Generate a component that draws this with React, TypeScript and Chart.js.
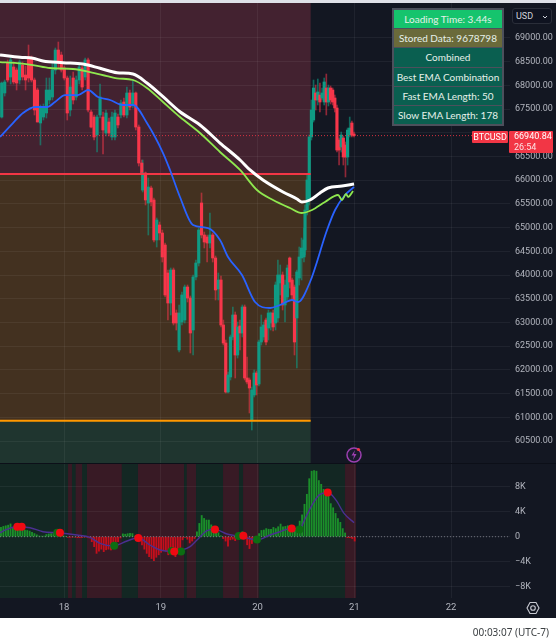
import React, { useEffect, useRef } from "react";
import { Chart, registerables } from "chart.js";

Chart.register(...registerables);

// ---------- data ----------
const priceTicks = [69000, 68500, 68000, 67500, 67000, 66500, 66000, 65500, 65000, 64500, 64000, 63500, 63000, 62500, 62000, 61500, 61000, 60500];
const priceLabelUnderTag = 67000;
const oscTicks = [8000, 4000, 0, -4000, -8000];
const dayTicks = [18, 19, 20, 21, 22];

const opens = [67333,67840,68472,68177,68388,68325,68114,68430,68219,68599,68578,68114,67903,67207,67333,67418,67692,67755,68325,68746,68641,68367,68156,67481,68156,67755,68114,68367,68177,68536,67439,67333,66954,67376,67333,66996,67228,66912,66912,67333,67376,67650,67376,67840,67587,67840,67122,66363,
  65794,66152,65520,65836,65583,64740,65056,64887,64634,64043,63411,64107,63200,62420,63010,63052,63748,63516,62841,63959,64254,65520,64845,64803,64676,64845,64360,63706,
  63896,62947,62567,61534,61850,62694,63158,62314,62926,62778,63326,61829,61787,60941,61471,61934,61702,62588,62694,63052,62883,62989,63200,62989,63095,63833,64001,63369,63537,64360,63896,63748,63095,63938,64360,64381,
  64529,65372,65583,66912,67270,67840,67692,67797,67734,67650,67945,67650,67945,67903,67734,67523,66848,66701,66891,66743,66490,66954,67207,66975];
const highs = [68072,68114,68536,68620,68493,68367,68536,68493,68409,68852,68620,68156,67945,67587,67608,68156,68156,68493,68789,68915,68704,68409,68198,68198,68282,68198,68430,68409,68578,68578,67481,67376,67376,68030,67439,67481,67312,67439,67481,67397,67692,67734,67966,67903,68114,67861,67165,66427,
  66427,66173,66047,65878,65625,65203,65119,64950,64676,64107,64149,64149,63263,63369,63643,63790,63790,63558,64001,64318,64992,65731,64908,64845,65309,64887,64402,64043,
  63980,63052,62630,61955,62736,63326,63221,63010,63052,63369,63369,62272,61829,61639,61998,61977,62630,63158,63010,63095,63263,63221,63263,63854,64318,64212,64065,63896,64212,64381,63938,63790,64107,64592,64782,64992,
  65478,66110,66954,67692,68114,68008,68135,68051,67945,68156,68240,68008,67987,67945,67797,67587,66891,67017,66933,66806,67101,67333,67249,67017];
const lows = [67312,67776,68072,68030,68030,67903,68030,68114,67903,68072,68072,67376,67228,66743,67270,67312,67608,67692,68240,68367,68282,68114,67270,67355,67608,67692,68030,67903,68114,67439,67101,66848,66595,67312,66553,66933,66933,66848,66848,67101,67312,67333,67312,67481,67523,67059,66300,65794,
  65752,65478,64845,65457,64697,64592,64740,64275,63537,63052,63158,62947,62841,62377,62947,62989,63432,62356,62314,63896,64191,64782,64571,64275,64571,64275,63474,63474,
  62905,62525,61513,61513,61787,62630,61829,62250,62420,62694,61787,61702,61091,60732,61428,61471,61660,62525,62630,62525,62630,62841,62820,62841,63010,63580,63263,63010,63474,63727,63474,62314,62040,63790,63896,64275,
  64423,65266,65478,66848,67228,67481,67587,67439,67692,67587,67376,67566,67608,67587,67439,66595,66321,66595,66321,66068,66321,66912,66912,66912];
const closes = [68051,68072,68114,68536,68072,68051,68493,68177,68114,68156,68114,67481,67228,67544,67544,67903,67903,68325,68746,68472,68325,68156,67418,67966,67692,68114,68388,67966,68536,67481,67122,66912,67333,67755,67059,67418,66996,67333,67418,67165,67629,67376,67840,67544,67840,67122,66363,66152,
  66152,65583,65857,65541,64740,65161,64887,64381,63580,63411,64107,62989,62989,63200,63580,63748,63516,62778,63959,64254,64950,64845,64697,64676,64845,64360,63685,63896,
  62947,62567,61534,61892,62694,63158,62314,62905,62778,63326,61829,61745,61618,61576,61934,61681,62588,62905,62947,62588,63200,63200,62905,63790,64001,64001,63369,63790,64149,63854,63580,62588,64065,64381,64571,64740,
  65372,66005,66912,67481,67945,67692,67861,67650,67840,68072,67650,67945,67692,67650,67523,66637,66637,66954,66490,66490,67059,67101,66954,66940];

// time of the first candle of each stretch, and the spacing in days within it
const candleStretchFirst = [0, 48, 76, 112];
const candleStretchDay = [17.3556, 18.813, 19.622, 20.4905];
const candleStretchStep = [0.0308, 0.02894, 0.0245, 0.022];

const slowDays = [17.338,17.545,17.679,17.782,17.989,18.196,18.372,18.547,18.713,18.857,19.023,19.198,19.405,19.612,19.819,19.922,20.056,20.263,20.408,20.459,20.542,20.645,20.728,20.873,20.997];
const slowEma = [68641,68593,68572,68515,68479,68451,68361,68268,68240,68051,67762,67445,67165,66785,66427,66216,66005,65752,65604,65541,65583,65731,65836,65878,65920];
const fastDays = [17.338,17.514,17.679,17.855,18.093,18.268,18.444,18.547,18.713,18.857,19.023,19.198,19.405,19.612,19.819,19.994,20.16,20.335,20.459,20.563,20.697,20.832,20.873,20.914,20.935,20.987];
const fastEma = [68493,68472,68430,68367,68346,68282,68198,68150,68114,67945,67650,67333,66996,66595,66216,65794,65583,65414,65309,65372,65541,65689,65583,65710,65647,65773];
const blueDays = [17.338,17.472,17.576,17.7,17.824,17.906,18.01,18.144,18.248,18.351,18.475,18.609,18.713,18.857,19.023,19.095,19.198,19.333,19.488,19.612,19.695,19.839,19.974,20.129,20.232,20.356,20.418,20.542,20.718,20.801,20.904,20.997];
const blueEma = [66912,67207,67418,67544,67544,67650,67797,67797,67903,67755,67692,67587,67587,67207,66574,66216,65646,65056,64992,64740,64381,64001,63432,63305,63369,63474,63432,63854,64950,65372,65689,65857];

const lastPrice = 66940.84;
const upperLevel = 66131;
const lowerLevel = 60928;
const zoneFirstDay = 17.338;
const zoneLastDay = 20.549;

const histFirstDay = 17.348;
const histStep = 0.0247;
const histogram = [1500,1650,1750,1850,2050,1500,1500,1500,1500,1250,1070,1000,900,700,500,300,120,100,100,350,450,500,530,800,960,400,150,80,-100,-60,-40,-80,-160,-160,-130,-60,-80,-200,-800,-1600,-2670,-2300,-2000,-2400,-2100,-2000,-2130,-1600,-1330,-800,-200,450,400,480,530,500,100,-60,-700,-1330,-2000,-2670,-3200,-3500,-3840,-3300,-2900,-2500,-2200,-2300,-2900,-2000,-2600,-3200,-2500,-1800,-500,-100,-400,-1000,-700,-300,800,2130,3400,2930,2670,2670,1900,1100,900,640,150,-300,-700,-1500,-500,-400,-640,200,600,800,-300,-1300,-1900,-1100,-600,-200,500,1000,1070,1300,1200,1200,1490,1300,1600,2030,1600,1650,1760,1450,1250,1070,1300,2500,3500,5200,6800,9300,10500,10600,10500,9000,8400,7600,7470,6770,5300,4640,3730,2900,2300,1300,600,-150,-160,-300,-700];

const oscDays = [17.338,17.407,17.511,17.648,17.782,17.938,18.134,18.268,18.372,18.506,18.651,18.764,18.888,18.992,19.126,19.219,19.302,19.374,19.478,19.56,19.684,19.798,19.87,19.994,20.129,20.232,20.346,20.428,20.501,20.573,20.635,20.728,20.811,20.894,20.997];
const oscLine = [640,1170,1600,1440,800,640,270,-110,-1070,-1490,-690,-160,-1330,-2130,-2350,-2130,-1600,-530,960,1170,430,110,-110,-530,270,800,1330,1170,3200,5330,6660,7090,5860,3730,2240];

const redDotDays = [17.517,17.562,17.958,18.767,19.139,19.56,19.853,20.353,20.725];
const redDotValues = [1600,1600,640,-210,-2350,1170,160,1330,7090];
const greenDotDays = [17.93,18.519,19.113,19.209,19.805,19.994,20.432];
const greenDotValues = [640,-1440,-2290,-2350,110,-430,1170];

const oscGreenLastDay = 20.904;
const oscRedStarts = [18.041,18.12,18.237,18.764,19.268,19.643,19.85,20.904];
const oscRedEnds = [18.082,18.186,18.596,19.24,19.364,19.808,20.012,21.018];

const panelRows = ["Loading Time: 3.44s", "Stored Data: 9678798", "Combined", "Best EMA Combination", "Fast EMA Length: 50", "Slow EMA Length: 178"];

// ---------- view ----------
const dayMin = 17.338;
const dayMax = 22.609;
const FONT = 'Roboto, sans-serif';
const BG = "#131722";
const GRID = "rgba(255,255,255,0.055)";
const AXIS_TEXT = "#b2b5be";
const UP = "#0f9b84";
const DOWN = "#f7364a";
const UP_W = "rgba(15,155,132,0.6)";
const DOWN_W = "rgba(247,54,74,0.55)";

const candleDay = (i: number) => {
  let s = 0;
  for (let k = 0; k < candleStretchFirst.length; k++) if (i >= candleStretchFirst[k]) s = k;
  return candleStretchDay[s] + (i - candleStretchFirst[s]) * candleStretchStep[s];
};
const zip = (xs: number[], ys: number[]) => xs.map((x, i) => ({ x, y: ys[i] }));

const noPad = (s: any) => {
  s.paddingLeft = s.paddingRight = s.paddingTop = s.paddingBottom = 0;
};

const priceZones = {
  id: "priceZones",
  beforeDraw(c: any) {
    const { ctx, scales, chartArea: a } = c;
    const x = scales.x, y = scales.y;
    ctx.save();
    ctx.fillStyle = BG;
    ctx.fillRect(0, 0, c.width, c.height);
    const l = x.getPixelForValue(zoneFirstDay), r = x.getPixelForValue(zoneLastDay);
    const u = y.getPixelForValue(upperLevel), d = y.getPixelForValue(lowerLevel);
    ctx.fillStyle = "#432230";
    ctx.fillRect(l, a.top, r - l, u - a.top);
    ctx.fillStyle = "#433120";
    ctx.fillRect(l, u, r - l, d - u);
    ctx.fillStyle = "#1f352f";
    ctx.fillRect(l, d, r - l, a.bottom - d);
    ctx.restore();
  },
};

const oscZones = {
  id: "oscZones",
  beforeDraw(c: any) {
    const { ctx, scales, chartArea: a } = c;
    const x = scales.x;
    ctx.save();
    ctx.fillStyle = BG;
    ctx.fillRect(0, 0, c.width, c.height);
    const l = x.getPixelForValue(dayMin), r = x.getPixelForValue(oscGreenLastDay);
    ctx.fillStyle = "#132723";
    ctx.fillRect(l, a.top, r - l, a.bottom - a.top);
    ctx.fillStyle = "#381a25";
    oscRedStarts.forEach((s, i) => {
      const p = x.getPixelForValue(s), q = x.getPixelForValue(oscRedEnds[i]);
      ctx.fillRect(p, a.top, q - p, a.bottom - a.top);
    });
    ctx.restore();
  },
};

const lineDs = (data: any[], color: string, width: number, order: number, extra: any = {}) => ({
  type: "line",
  data,
  borderColor: color,
  borderWidth: width,
  pointRadius: 0,
  cubicInterpolationMode: "monotone",
  order,
  ...extra,
});

function priceConfig(): any {
  const times = opens.map((_, i) => candleDay(i));
  const isUp = (i: number) => closes[i] >= opens[i];
  return {
    type: "bar",
    data: {
      datasets: [
        lineDs(zip(slowDays, slowEma), "#ffffff", 3, 0),
        lineDs(zip(fastDays, fastEma), "#8fe84f", 1.8, 0),
        lineDs(zip(blueDays, blueEma), "#2962ff", 1.8, 0),
        lineDs([{ x: zoneFirstDay, y: upperLevel }, { x: zoneLastDay, y: upperLevel }], "#f23645", 2, 0),
        lineDs([{ x: zoneFirstDay, y: lowerLevel }, { x: zoneLastDay, y: lowerLevel }], "#ff9800", 2, 0),
        lineDs([{ x: dayMin, y: lastPrice }, { x: dayMax, y: lastPrice }], "rgba(242,54,69,0.85)", 1, 0, { borderDash: [1, 2] }),
        {
          type: "bar",
          data: times.map((x, i) => ({ x, y: [opens[i], closes[i]] })),
          backgroundColor: times.map((_, i) => (isUp(i) ? UP : DOWN)),
          barThickness: 2.5,
          borderWidth: 0,
          grouped: false,
          order: 1,
        },
        {
          type: "bar",
          data: times.map((x, i) => ({ x, y: [lows[i], highs[i]] })),
          backgroundColor: times.map((_, i) => (isUp(i) ? UP_W : DOWN_W)),
          barThickness: 1,
          borderWidth: 0,
          grouped: false,
          order: 2,
        },
      ],
    },
    options: {
      responsive: false,
      animation: false,
      events: [],
      layout: { padding: 0, autoPadding: false },
      plugins: { legend: { display: false }, tooltip: { enabled: false } },
      scales: {
        x: {
          type: "linear",
          min: dayMin,
          max: dayMax,
          offset: false,
          afterBuildTicks: (s: any) => { s.ticks = dayTicks.map((value) => ({ value })); },
          ticks: { display: false },
          grid: { color: GRID, drawTicks: false, offset: false },
          border: { display: false },
          afterFit: (s: any) => { s.height = 0; noPad(s); },
        },
        y: {
          position: "right",
          min: 60015,
          max: 69738,
          afterBuildTicks: (s: any) => { s.ticks = priceTicks.map((value) => ({ value })); },
          afterFit: (s: any) => { s.width = 46; noPad(s); },
          ticks: {
            color: AXIS_TEXT,
            font: { family: FONT, size: 9 },
            padding: 5,
            crossAlign: "near",
            autoSkip: false,
            callback: (v: number) => (v === priceLabelUnderTag ? "" : v.toFixed(2)),
          },
          grid: { color: GRID, drawTicks: false },
          border: { display: false },
        },
      },
    },
  };
}

function oscConfig(): any {
  const xs = histogram.map((_, i) => histFirstDay + i * histStep);
  return {
    type: "bar",
    data: {
      datasets: [
        lineDs(zip(redDotDays, redDotValues), "#f00d0d", 0, 0, { showLine: false, pointRadius: 4, pointBackgroundColor: "#ee0a12", pointBorderWidth: 0 }),
        lineDs(zip(greenDotDays, greenDotValues), "#0c6e12", 0, 0, { showLine: false, pointRadius: 4, pointBackgroundColor: "#0c6e12", pointBorderWidth: 0 }),
        lineDs(zip(oscDays, oscLine), "#4b2f91", 1.4, 1),
        lineDs([{ x: dayMin, y: 0 }, { x: dayMax, y: 0 }], "rgba(178,181,190,0.55)", 1, 2, { borderDash: [1, 2] }),
        {
          type: "bar",
          data: xs.map((x, i) => ({ x, y: histogram[i] })),
          backgroundColor: histogram.map((v) => (v >= 0 ? "#1b8f2a" : "#c40f1c")),
          barThickness: 1.2,
          borderWidth: 0,
          order: 3,
        },
      ],
    },
    options: {
      responsive: false,
      animation: false,
      events: [],
      layout: { padding: 0, autoPadding: false },
      plugins: { legend: { display: false }, tooltip: { enabled: false } },
      scales: {
        x: {
          type: "linear",
          min: dayMin,
          max: dayMax,
          offset: false,
          afterBuildTicks: (s: any) => { s.ticks = dayTicks.map((value) => ({ value })); },
          afterFit: (s: any) => { s.height = 20; noPad(s); },
          ticks: { color: AXIS_TEXT, font: { family: FONT, size: 9.5 }, padding: 4, maxRotation: 0, autoSkip: false, callback: (v: number) => String(v) },
          grid: { color: GRID, drawTicks: false, offset: false },
          border: { display: false },
        },
        y: {
          position: "right",
          min: -9820,
          max: 11650,
          afterBuildTicks: (s: any) => { s.ticks = oscTicks.map((value) => ({ value })); },
          afterFit: (s: any) => { s.width = 46; noPad(s); },
          ticks: {
            color: AXIS_TEXT,
            font: { family: FONT, size: 9 },
            padding: 5,
            crossAlign: "near",
            autoSkip: false,
            callback: (v: number) => (v === 0 ? "0" : `${v < 0 ? "\u2212" : ""}${Math.abs(v) / 1000}K`),
          },
          grid: { color: GRID, drawTicks: false },
          border: { display: false },
        },
      },
    },
  };
}

const rowColors = ["#15c46d", "#6a6a3a", "#0a5f50", "#0a5f50", "#0a5f50", "#0a5f50"];
const abs = (s: React.CSSProperties): React.CSSProperties => ({ position: "absolute", boxSizing: "border-box", ...s });

export default function App() {
  const top = useRef<HTMLCanvasElement>(null);
  const bottom = useRef<HTMLCanvasElement>(null);
  useEffect(() => {
    const a = new Chart(top.current as HTMLCanvasElement, { ...priceConfig(), plugins: [priceZones] });
    const b = new Chart(bottom.current as HTMLCanvasElement, { ...oscConfig(), plugins: [oscZones] });
    return () => {
      a.destroy();
      b.destroy();
    };
  }, []);
  return (
    <div style={abs({ left: 0, top: 0, width: 556, height: 640, background: "#fff", overflow: "hidden", fontFamily: FONT })}>
      <div style={abs({ left: 0, top: 0, width: 556, height: 3, background: "#dfe1e8" })} />
      <canvas ref={top} width={556} height={461} style={abs({ left: 0, top: 3, width: 556, height: 461 })} />
      <canvas ref={bottom} width={556} height={154} style={abs({ left: 0, top: 464, width: 556, height: 154 })} />
      <div style={abs({ left: 0, top: 463, width: 556, height: 1, background: "#0c0f18" })} />

      <div style={abs({ left: 392, top: 8, width: 112, height: 118, background: "#4c505c", padding: 2, display: "flex", flexDirection: "column", gap: 1, fontFamily: 'Lato, sans-serif' })}>
        {panelRows.map((t, i) => (
          <div key={t} style={{ flex: 1, background: rowColors[i], color: "#e6f1ea", fontSize: 10, display: "flex", alignItems: "center", justifyContent: "center", whiteSpace: "nowrap" }}>
            {t}
          </div>
        ))}
      </div>

      <div style={abs({ left: 512, top: 8, width: 40, height: 16, background: "#0f1320", border: "1px solid #2a2e39", borderRadius: 3, color: "#d1d4dc", fontSize: 9, lineHeight: "14px", paddingLeft: 3 })}>
        USD
        <svg width="6" height="4" viewBox="0 0 6 4" style={{ position: "absolute", right: 3, top: 6 }}>
          <path d="M1 1 L3 3 L5 1" stroke="#d1d4dc" fill="none" />
        </svg>
      </div>

      <div style={abs({ left: 472, top: 131, width: 36, height: 12, background: "#f23645", color: "#fff", fontSize: 9, lineHeight: "12px", textAlign: "center", borderRadius: 1 })}>BTCUSD</div>
      <div style={abs({ left: 509, top: 131, width: 44, height: 22, background: "#f23645", color: "#fff", fontSize: 9, lineHeight: "11px", paddingLeft: 5, borderRadius: 1 })}>
        <div>66940.84</div>
        <div style={{ opacity: 0.85 }}>26:54</div>
      </div>

      <svg width="20" height="20" viewBox="0 0 20 20" style={{ position: "absolute", left: 344, top: 445 }}>
        <circle cx="10" cy="10" r="7" fill="#1a1a2e" stroke="#9c3fb0" strokeWidth="1.5" />
        <path d="M11 5 L7.5 10.5 L10 10.5 L9 15 L12.5 9 L10 9 Z" fill="#9c3fb0" />
        <circle cx="14.5" cy="4.5" r="1.6" fill="#f23645" />
      </svg>

      <svg width="14" height="14" viewBox="0 0 14 14" style={{ position: "absolute", left: 526, top: 601 }}>
        <path d="M4 1.5 H10 L13 7 L10 12.5 H4 L1 7 Z" fill="none" stroke="#c8cad2" strokeWidth="1.1" />
        <circle cx="7" cy="7" r="2.3" fill="none" stroke="#c8cad2" strokeWidth="1.1" />
      </svg>

      <div style={abs({ left: 440, top: 625, width: 109, textAlign: "right", color: "#3c4043", fontFamily: '"Noto Sans", sans-serif', fontSize: 10, lineHeight: "14px", whiteSpace: "nowrap" })}>00:03:07 (UTC-7)</div>
    </div>
  );
}
